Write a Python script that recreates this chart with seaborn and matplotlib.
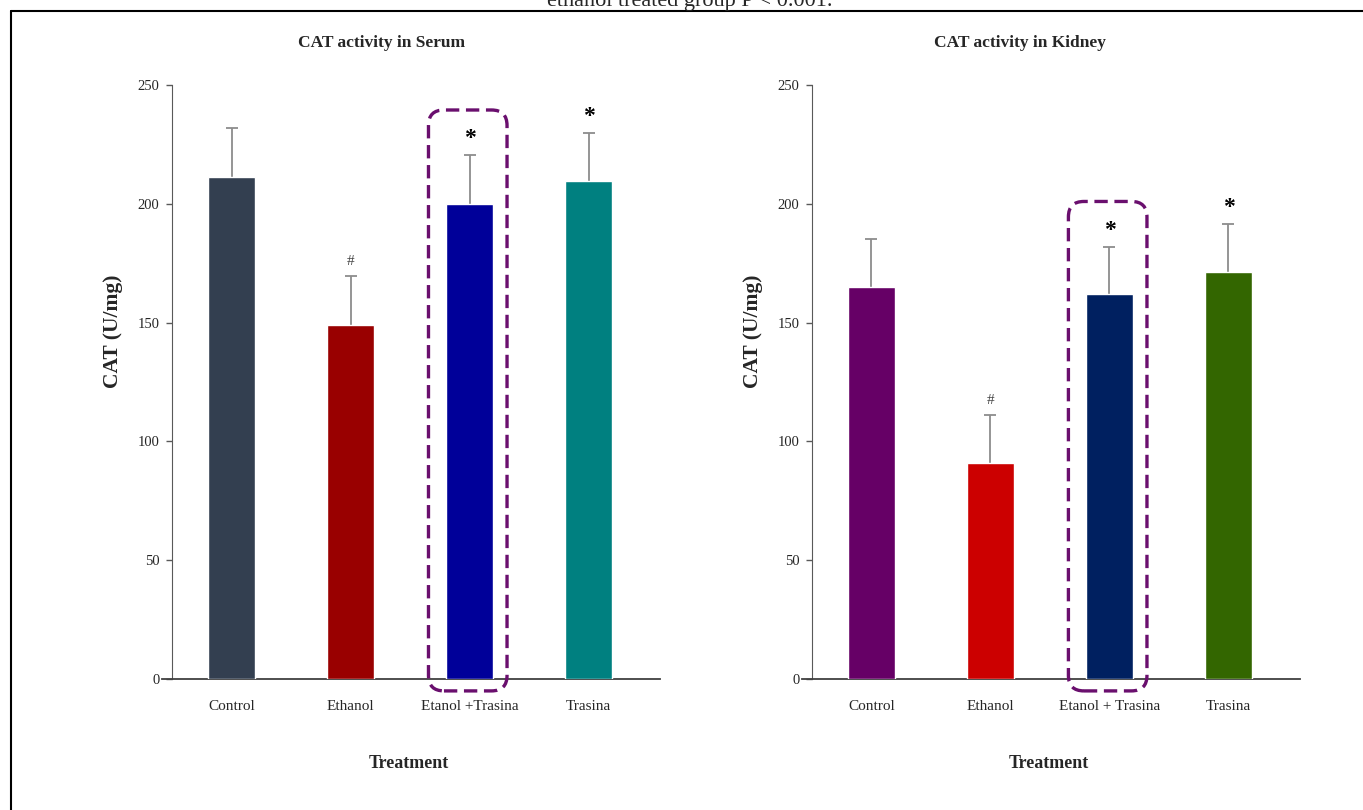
import numpy as np
import pandas as pd
import matplotlib.pyplot as plt
import seaborn as sns
from matplotlib.patches import FancyBboxPatch
from matplotlib.lines import Line2D

# data
groups = ["Control", "Ethanol", "Etanol +Trasina", "Trasina"]
groups_kidney = ["Control", "Ethanol", "Etanol + Trasina", "Trasina"]
serum_mean = [211.5, 149.0, 200.0, 209.5]
serum_sd = [20.5, 20.5, 20.5, 20.5]
kidney_mean = [165.0, 91.0, 162.0, 171.5]
kidney_sd = [20.0, 20.0, 20.0, 20.0]
serum_marks = ["", "#", "*", "*"]
kidney_marks = ["", "#", "*", "*"]

serum_colors = ["#333F50", "#990000", "#000099", "#008080"]
kidney_colors = ["#660066", "#CC0000", "#002060", "#336600"]

sns.set_style("white")
plt.rcParams["font.family"] = ["Liberation Serif", "DejaVu Serif"]
plt.rcParams["axes.edgecolor"] = "#404040"

fig = plt.figure(figsize=(13.63, 8.10), dpi=100)
ax1 = fig.add_axes([0.1262, 0.1617, 0.358, 0.7333])
ax2 = fig.add_axes([0.5957, 0.1617, 0.358, 0.7333])


def draw_panel(ax, names, means, sds, colors, marks, title, title_x):
    df = pd.DataFrame({"group": names, "cat": means})
    sns.barplot(data=df, x="group", y="cat", hue="group", palette=colors,
                legend=False, width=0.4, ax=ax, zorder=3, saturation=1)
    x = np.arange(len(names))
    eb = ax.errorbar(x, means, yerr=[np.zeros(len(sds)), sds], fmt="none",
                     ecolor="#8c8c8c", elinewidth=1.3, capsize=4, capthick=1.3, zorder=1)
    eb[1][0].set_visible(False)  # no lower caps
    for xi, m, s, mk in zip(x, means, sds, marks):
        if mk == "*":
            ax.text(xi, m + s + 2.5, mk, ha="center", va="bottom",
                    fontsize=17, fontweight="bold", color="black")
        elif mk == "#":
            ax.text(xi, m + s + 3.5, mk, ha="center", va="bottom",
                    fontsize=11, color="#444444")
    # dashed rounded box around the combined treatment
    top = means[2] + sds[2] + 19
    box = FancyBboxPatch((1.655, -5), 0.66, top + 5,
                         boxstyle="round,pad=0,rounding_size=0.13",
                         mutation_aspect=50, fill=False, edgecolor="#6A0F6E",
                         linewidth=2.4, linestyle=(0, (4, 2)), clip_on=False, zorder=4)
    ax.add_patch(box)

    ax.set_xlim(-0.5, 3.6)
    ax.set_ylim(0, 250)
    ax.set_yticks([0, 50, 100, 150, 200, 250])
    sns.despine(ax=ax)
    ax.spines["left"].set_color("#595959")
    ax.spines["bottom"].set_color("#404040")
    ax.spines["bottom"].set_linewidth(1.3)
    ax.spines["bottom"].set_bounds(-0.58, 3.6)
    ax.tick_params(axis="y", direction="out", length=4, width=1, color="#595959",
                   labelsize=10.5, pad=5, left=True)
    ax.tick_params(axis="x", length=0, labelsize=11, pad=15)
    ax.set_xlabel("Treatment", fontsize=13, fontweight="bold")
    ax.set_ylabel("CAT (U/mg)", fontsize=15.5, fontweight="bold")
    ax.xaxis.set_label_coords(0.485, -0.128)
    ax.yaxis.set_label_coords(-0.1, 0.585)
    fig.text(title_x, 1 - 43 / 810, title, ha="center", va="center",
             fontsize=12.5, fontweight="bold")


draw_panel(ax1, groups, serum_mean, serum_sd, serum_colors, serum_marks,
           "CAT activity in Serum", 382 / 1363)
draw_panel(ax2, groups_kidney, kidney_mean, kidney_sd, kidney_colors, kidney_marks,
           "CAT activity in Kidney", 1020 / 1363)

# cut-off caption line at the very top and the frame
fig.text(690 / 1363, 1 - 6 / 810, "ethanol treated group P < 0.001.",
         ha="center", va="baseline", fontsize=16)
fig.add_artist(Line2D([11 / 1363, 1], [1 - 11 / 810, 1 - 11 / 810],
                      color="black", linewidth=1.5))
fig.add_artist(Line2D([11 / 1363, 11 / 1363], [0, 1 - 11 / 810],
                      color="black", linewidth=1.5))

plt.savefig("out.png", dpi=100)
